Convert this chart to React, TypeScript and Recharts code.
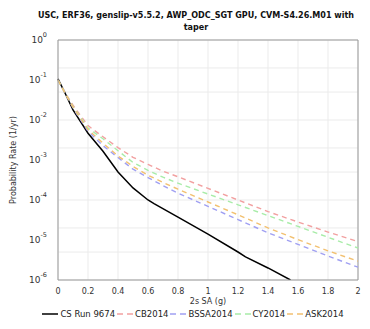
import * as React from 'react'
import { CartesianGrid, Line, LineChart, XAxis, YAxis } from 'recharts'

// spectral acceleration (g) sample points
const saCs = [0, 0.05, 0.1, 0.2, 0.3, 0.4, 0.5, 0.6, 0.64, 0.8, 1.0, 1.2, 1.25, 1.4, 1.55]
const csRun9674 = [0.107, 0.0447, 0.0178, 0.00468, 0.00166, 0.000501, 0.0002, 0.0001, 0.0000813, 0.0000372, 0.0000141, 0.00000501, 0.0000038, 0.000002, 0.000001]

const saGmpe = [0, 0.05, 0.1, 0.2, 0.3, 0.4, 0.5, 0.6, 0.7, 0.8, 1.0, 1.2, 1.4, 1.6, 1.8, 2.0]
const cb2014 = [0.1, 0.0468, 0.0234, 0.00724, 0.0038, 0.00204, 0.00117, 0.000776, 0.000525, 0.00038, 0.000195, 0.0001, 0.0000513, 0.0000282, 0.0000158, 0.0000091]
const bssa2014 = [0.1, 0.0447, 0.02, 0.00525, 0.00229, 0.00115, 0.000589, 0.000363, 0.000229, 0.000148, 0.0000692, 0.0000324, 0.0000151, 0.00000776, 0.00000398, 0.00000209]
const cy2014 = [0.1, 0.0457, 0.0219, 0.0063, 0.00339, 0.0017, 0.00087, 0.00055, 0.000372, 0.000263, 0.000141, 0.0000759, 0.0000407, 0.0000219, 0.0000117, 0.0000063]
const ask2014 = [0.1, 0.0447, 0.0209, 0.00575, 0.00263, 0.00126, 0.000692, 0.000417, 0.000275, 0.000186, 0.0000891, 0.0000427, 0.00002, 0.0000102, 0.00000537, 0.00000295]

const xTicks = [0, 0.2, 0.4, 0.6, 0.8, 1, 1.2, 1.4, 1.6, 1.8, 2]
const yExponents = [-6, -5, -4, -3, -2, -1, 0]

const FONT = '"DejaVu Sans", sans-serif'

const toRows = (xs: number[], ys: number[]) => xs.map((sa, i) => ({ sa, rate: ys[i] }))

const series = [
  { name: 'CS Run 9674', data: toRows(saCs, csRun9674), color: '#000000', dash: undefined },
  { name: 'CB2014', data: toRows(saGmpe, cb2014), color: '#f2a0a0', dash: '5 4' },
  { name: 'BSSA2014', data: toRows(saGmpe, bssa2014), color: '#a0a0f2', dash: '5 4' },
  { name: 'CY2014', data: toRows(saGmpe, cy2014), color: '#a8eca8', dash: '5 4' },
  { name: 'ASK2014', data: toRows(saGmpe, ask2014), color: '#f2c070', dash: '5 4' },
]

const yTicks = yExponents.map((e) => Math.pow(10, e))
const minorY: number[] = []
yExponents.forEach((e) => {
  if (e === 0) return
  for (let k = 1; k <= 9; k++) minorY.push(k * Math.pow(10, e))
})
minorY.push(1)

const PowerTick = (props: any) => {
  const { x, y, payload } = props
  const e = Math.round(Math.log10(payload.value))
  return (
    <text x={x - 3} y={y + 3} textAnchor="end" fill="#333" fontSize={9} fontFamily={FONT}>
      <tspan>10</tspan>
      <tspan dy={-6} fontSize={6.5}>{e}</tspan>
    </text>
  )
}

export default function App() {
  return (
    <div style={{ position: 'absolute', left: 0, top: 0, width: 370, height: 329, background: '#fff', fontFamily: FONT }}>
      <div
        style={{
          position: 'absolute',
          left: 11,
          width: 370,
          top: 10,
          textAlign: 'center',
          fontSize: 8.05,
          fontWeight: 'bold',
          lineHeight: '12px',
          color: '#111',
          whiteSpace: 'nowrap',
        }}
      >
        USC, ERF36, genslip-v5.5.2, AWP_ODC_SGT GPU, CVM-S4.26.M01 with
        <br />
        taper
      </div>
      <LineChart width={370} height={329} margin={{ top: 40, right: 12, bottom: 25, left: 0 }}>
        <CartesianGrid
          stroke="#ebebeb"
          horizontalValues={minorY}
          verticalValues={xTicks}
        />
        <XAxis
          type="number"
          dataKey="sa"
          domain={[0, 2]}
          ticks={xTicks}
          allowDuplicatedCategory={false}
          height={24}
          stroke="#999"
          tickLine={false}
          tick={{ fill: '#333', fontSize: 8, fontFamily: FONT }}
          tickMargin={2}
          label={{ value: '2s SA (g)', position: 'insideBottom', offset: 0, fill: '#333', fontSize: 8, fontFamily: FONT }}
        />
        <YAxis
          type="number"
          dataKey="rate"
          scale="log"
          domain={[1e-6, 1]}
          allowDataOverflow
          ticks={yTicks}
          width={58}
          stroke="#999"
          tickLine={false}
          tick={<PowerTick />}
          label={{
            value: 'Probability Rate (1/yr)',
            angle: -90,
            position: 'insideLeft',
            offset: 13,
            fill: '#333',
            fontSize: 8,
            fontFamily: FONT,
            style: { textAnchor: 'middle' },
          }}
        />
        {series.map((s) => (
          <Line
            key={s.name}
            data={s.data}
            dataKey="rate"
            type="linear"
            stroke={s.color}
            strokeWidth={s.dash ? 1.4 : 1.5}
            strokeDasharray={s.dash}
            dot={false}
            isAnimationActive={false}
          />
        ))}
        <line x1={58} y1={40} x2={358} y2={40} stroke="#999" />
        <line x1={358} y1={40} x2={358} y2={280} stroke="#999" />
      </LineChart>
      <div
        style={{
          position: 'absolute',
          left: 8,
          width: 370,
          top: 309,
          display: 'flex',
          justifyContent: 'center',
          fontSize: 8.5,
          color: '#222',
          gap: 2,
          whiteSpace: 'nowrap',
        }}
      >
        {series.map((s) => (
          <span key={s.name} style={{ display: 'flex', alignItems: 'center', gap: 2 }}>
            <svg width={16} height={4}>
              <line x1={0} y1={2} x2={16} y2={2} stroke={s.color} strokeWidth={1.5} strokeDasharray={s.dash ? '6 4' : undefined} />
            </svg>
            {s.name}
          </span>
        ))}
      </div>
    </div>
  )
}
